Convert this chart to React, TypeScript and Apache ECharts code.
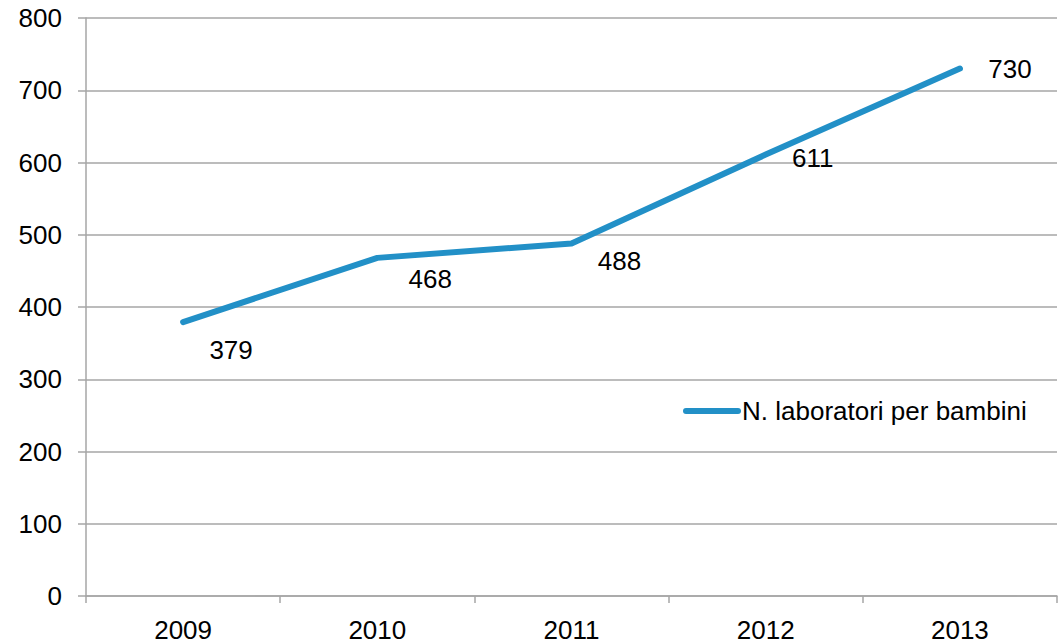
import React, { useEffect, useRef } from "react";
import * as echarts from "echarts";

const categories = ["2009", "2010", "2011", "2012", "2013"];
const values = [379, 468, 488, 611, 730];
const labelOffsets: [number, number][] = [
  [48, 28],
  [53, 21],
  [48, 18],
  [47, 3],
  [50, 0],
];
const seriesName = "N. laboratori per bambini";
const yTicks = { min: 0, max: 800, interval: 100 };

const LINE = "#2290c7";
const GRID = "#a6a6a6";
const FONT = "Liberation Sans, Arial, sans-serif";
const FS = 26;

export default function App() {
  const ref = useRef<HTMLDivElement>(null);
  useEffect(() => {
    if (!ref.current) return;
    const chart = echarts.init(ref.current, undefined, { renderer: "svg" });
    chart.setOption({
      animation: false,
      backgroundColor: "#ffffff",
      textStyle: { fontFamily: FONT },
      grid: { left: 86, right: 6, top: 18, bottom: 48, containLabel: false },
      legend: {
        show: true,
        left: 678,
        top: 393,
        padding: 5,
        orient: "horizontal",
        icon: "path://M3,0 H55 A3,3 0 0 1 55,6 H3 A3,3 0 0 1 3,0 Z",
        itemWidth: 58,
        itemHeight: 6,
        textStyle: { fontSize: FS, color: "#000", fontFamily: FONT, padding: [0, 0, 0, -4] },
        data: [seriesName],
      },
      xAxis: {
        type: "category",
        data: categories,
        boundaryGap: true,
        axisLine: { show: true, lineStyle: { color: GRID, width: 1.5 } },
        axisTick: { show: true, length: 7, alignWithLabel: false, lineStyle: { color: GRID, width: 1.5 } },
        axisLabel: { fontSize: FS, color: "#000", margin: 21, fontFamily: FONT },
        splitLine: { show: false },
      },
      yAxis: {
        type: "value",
        min: yTicks.min,
        max: yTicks.max,
        interval: yTicks.interval,
        axisLine: { show: true, lineStyle: { color: GRID, width: 1.5 } },
        axisTick: { show: true, length: 8, lineStyle: { color: GRID, width: 1.5 } },
        axisLabel: { fontSize: FS, color: "#000", margin: 24, fontFamily: FONT },
        splitLine: { show: true, lineStyle: { color: GRID, width: 1.5 } },
      },
      series: [
        {
          name: seriesName,
          type: "line",
          data: values.map((v, i) => ({
            value: v,
            label: { offset: labelOffsets[i] },
          })),
          symbol: "circle",
          symbolSize: 1,
          showSymbol: true,
          itemStyle: { color: LINE },
          lineStyle: { color: LINE, width: 6, cap: "round", join: "round" },
          label: {
            show: true,
            position: "inside",
            fontSize: FS,
            color: "#000",
            fontFamily: FONT,
            align: "center",
            verticalAlign: "middle",
          },
          emphasis: { disabled: true },
        },
      ],
    });
    return () => chart.dispose();
  }, []);
  return (
    <div
      ref={ref}
      style={{ position: "fixed", left: 0, top: 0, width: 1063, height: 644 }}
    />
  );
}
